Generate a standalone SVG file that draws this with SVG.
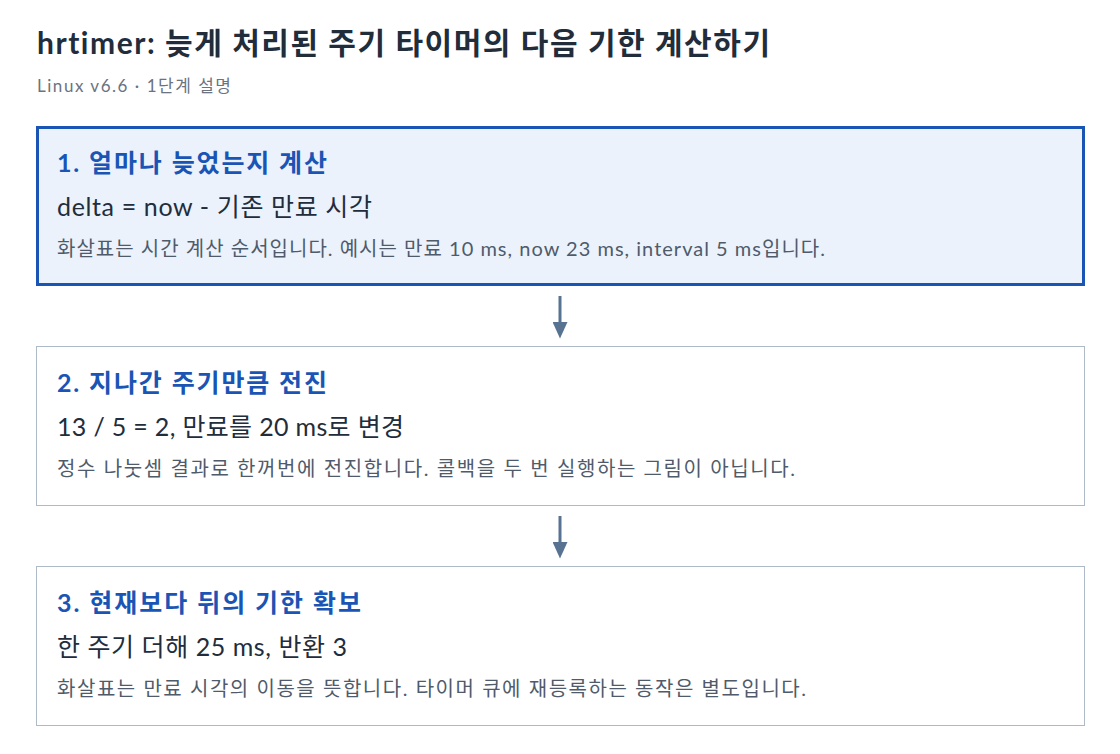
<svg xmlns="http://www.w3.org/2000/svg" width="1120" height="754" viewBox="0 0 1120 754">
<style>
text{font-family:"Lato","Noto Sans CJK KR",sans-serif;font-variant-ligatures:none;}
.title{font-size:30px;font-weight:700;fill:#222d3c;}
.sub{font-size:17px;fill:#6b7380;}
.hd{font-size:25px;font-weight:700;fill:#1a55b5;}
.main{font-size:25px;fill:#222d3c;}
.note{font-size:20px;fill:#4f5b6b;}
.box{fill:#ffffff;stroke:#aebac7;stroke-width:1;}
.box.active{fill:#ebf2fc;stroke:#1a55b5;stroke-width:3;}
.conn{stroke:#587391;stroke-width:3;fill:none;}
</style>
<defs>
<marker id="ah" markerWidth="6" markerHeight="5" refX="0" refY="2.5" orient="auto" markerUnits="strokeWidth">
<path d="M0,0 L5.5,2.5 L0,5 z" fill="#587391"/>
</marker>
</defs>
<rect width="1120" height="754" fill="#ffffff"/>
<text class="title" x="37" y="53.5" textLength="733" lengthAdjust="spacing">hrtimer: 늦게 처리된 주기 타이머의 다음 기한 계산하기</text>
<text class="sub" x="37" y="92" textLength="194" lengthAdjust="spacing">Linux v6.6 · 1단계 설명</text>
<g id="connectors">
<line class="conn" x1="560" y1="296" x2="560" y2="322" marker-end="url(#ah)"/>
<line class="conn" x1="560" y1="516" x2="560" y2="542" marker-end="url(#ah)"/>
</g>
<g id="step1">
<rect class="box active" x="37.5" y="127.5" width="1046" height="157"/>
<text class="hd" x="57" y="171.5" textLength="270" lengthAdjust="spacing">1. 얼마나 늦었는지 계산</text>
<text class="main" x="57" y="215.5" textLength="315" lengthAdjust="spacing">delta = now - 기존 만료 시각</text>
<text class="note" x="57" y="256" textLength="768" lengthAdjust="spacing">화살표는 시간 계산 순서입니다. 예시는 만료 10 ms, now 23 ms, interval 5 ms입니다.</text>
</g>
<g id="step2">
<rect class="box" x="36.5" y="346.5" width="1048" height="159"/>
<text class="hd" x="57" y="391.5" textLength="270" lengthAdjust="spacing">2. 지나간 주기만큼 전진</text>
<text class="main" x="57" y="435.5" textLength="347" lengthAdjust="spacing">13 / 5 = 2, 만료를 20 ms로 변경</text>
<text class="note" x="57" y="476" textLength="738" lengthAdjust="spacing">정수 나눗셈 결과로 한꺼번에 전진합니다. 콜백을 두 번 실행하는 그림이 아닙니다.</text>
</g>
<g id="step3">
<rect class="box" x="36.5" y="566.5" width="1048" height="159"/>
<text class="hd" x="57" y="611.5" textLength="304" lengthAdjust="spacing">3. 현재보다 뒤의 기한 확보</text>
<text class="main" x="57" y="655.5" textLength="290" lengthAdjust="spacing">한 주기 더해 25 ms, 반환 3</text>
<text class="note" x="57" y="696" textLength="749" lengthAdjust="spacing">화살표는 만료 시각의 이동을 뜻합니다. 타이머 큐에 재등록하는 동작은 별도입니다.</text>
</g>
</svg>
